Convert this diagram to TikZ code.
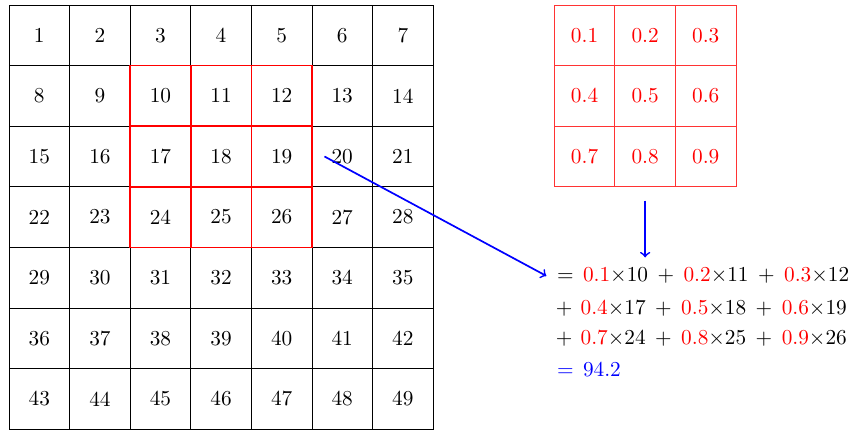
\documentclass[tikz,border=0pt]{standalone}
\usepackage{amsmath}
\usepackage{tikz}
\usetikzlibrary{positioning}
\tikzset{node distance=2.0cm, auto}
\tikzset{
  cell/.style={draw, minimum size=1cm, inner sep=0pt},
  kcell/.style={draw=red!80, text=red, minimum size=1cm, inner sep=0pt},
  hl/.style={draw=red, thick},
  eqline/.style={anchor=base west, inner sep=2pt},
}
\newcommand{\kw}[1]{\textcolor{red}{#1}}

\begin{document}
\begin{tikzpicture}
\useasboundingbox (-0.149,0) rectangle (14.03,7.083);
% input grid
\foreach \r in {0,...,6}
  \foreach \c in {0,...,6}{
    \pgfmathtruncatemacro{\n}{7*\r+\c+1}
    \node[cell] (c\n) at (\c+0.5,6.5-\r) {\n};
  }
% receptive field
\draw[hl] (c24.south west) grid (c12.north east);
% kernel
\foreach \r in {0,1,2}
  \foreach \c in {0,1,2}{
    \pgfmathtruncatemacro{\k}{3*\r+\c+1}
    \node[kcell] (k\k) at (9.5+\c,6.5-\r) {0.\k};
  }
% result
\node[eqline] (eq1) at (8.87,2.43)
  {${}={}\,\kw{0.1}{\times}10\:+\:\kw{0.2}{\times}11\:+\:\kw{0.3}{\times}12$};
\node[eqline] (eq2) at (8.87,1.89)
  {${}+{}\,\kw{0.4}{\times}17\:+\:\kw{0.5}{\times}18\:+\:\kw{0.6}{\times}19$};
\node[eqline] (eq3) at (8.87,1.39)
  {${}+{}\,\kw{0.7}{\times}24\:+\:\kw{0.8}{\times}25\:+\:\kw{0.9}{\times}26$};
\node[eqline, text=blue] (eq4) at (8.87,0.87) {${}={}\,94.2$};
\draw[blue, thick, ->] ([xshift=0.2cm]c19.east) -- (eq1.west);
\draw[blue, thick, ->] ([yshift=-0.22cm]k8.south) -- ([yshift=0.1cm]k8.south |- eq1.north);
\end{tikzpicture}
\end{document}
